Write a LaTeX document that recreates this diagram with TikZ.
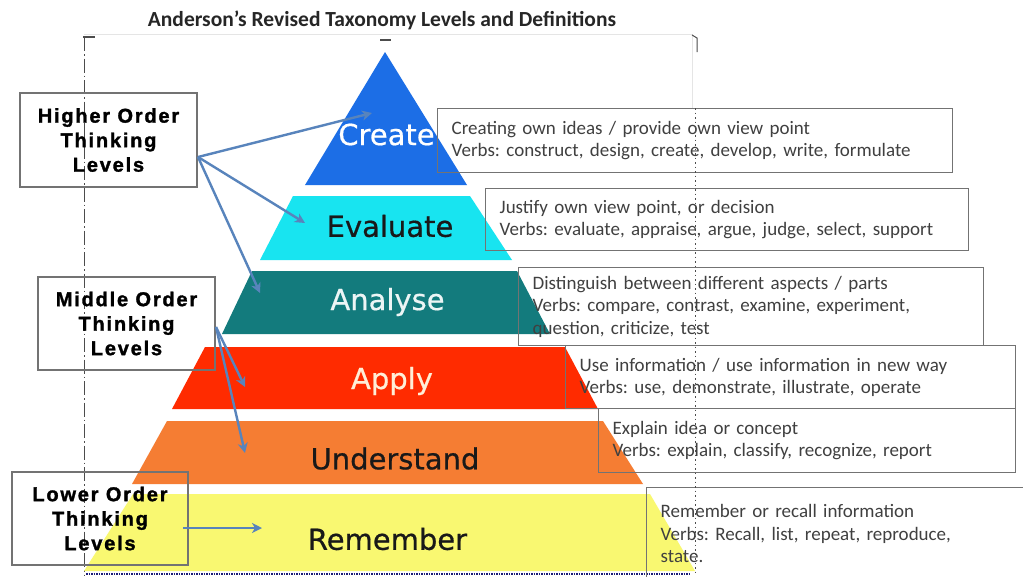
\documentclass[tikz,border=0pt]{standalone}
\usepackage{fontspec}
\setmainfont{Carlito}
\newfontfamily\pyrfont{DejaVu Sans}[FakeBold=0.6]
\newfontfamily\lvlfont{Liberation Sans}[LetterSpace=9, BoldFeatures={FakeBold=1.5}]
\usetikzlibrary{arrows.meta}
\definecolor{cCreate}{RGB}{28,110,230}
\definecolor{cEval}{RGB}{24,228,240}
\definecolor{cAnal}{RGB}{19,123,125}
\definecolor{cApply}{RGB}{255,43,0}
\definecolor{cUnder}{RGB}{245,125,51}
\definecolor{cRem}{RGB}{249,248,113}
\definecolor{arrowblue}{RGB}{88,132,188}
\definecolor{boxgray}{RGB}{115,115,115}
\definecolor{navy}{RGB}{30,30,120}
\frenchspacing
\begin{document}
\begin{tikzpicture}[x=1pt,y=-1pt,
  lvl/.style={draw=boxgray, line width=1.5pt, minimum width=177pt, minimum height=94pt,
    inner sep=0pt, align=center, text=black,
    font=\lvlfont\bfseries\fontsize{20}{24.5}\selectfont},
  desc/.style={draw=boxgray, line width=1.4pt, anchor=north west, inner xsep=14pt,
    inner ysep=0pt, align=left, text=black!75,
    font=\fontsize{19}{22.5}\selectfont},
  lab/.style={inner sep=0pt, font=\pyrfont\fontsize{29}{30}\selectfont},
  arr/.style={draw=arrowblue, line width=2.4pt,
    -{Stealth[length=10pt,width=10pt,inset=3pt]}},
  frame/.style={draw=black!70, line width=1pt},
]
\clip (0,0) rectangle (1023,576);
\fill[white] (0,0) rectangle (1023,576);

% title
\node[font=\bfseries\fontsize{21.5}{24}\selectfont, text=black!85] (title) at (382,20)
  {Anderson’s Revised Taxonomy Levels and Definitions};

% faint frame
\draw[black!10, line width=0.8pt] (84,34) -- (692,34) -- (692,108);
\draw[frame, dash pattern=on 14pt off 3pt on 1.5pt off 3pt] (84,37) -- (84,576);
\draw[frame, line width=1.3pt] (83,37) -- (95,37);
\draw[frame, line width=1.5pt] (380,40) -- (391,40);
\draw[frame] (692,35) -- (697,38) -- (697,52);

% pyramid layers
\fill[cCreate] (385,52) -- (467,185) -- (305,185) -- cycle;
\fill[cEval] (293,196) -- (470,196) -- (512,260) -- (260,260) -- cycle;
\fill[cAnal] (252,271) -- (517,271) -- (550,334) -- (222,334) -- cycle;
\fill[cApply] (205,347) -- (565,347) -- (598,409) -- (172,409) -- cycle;
\fill[cUnder] (167,421) -- (603,421) -- (643,484) -- (132,484) -- cycle;
\fill[cRem] (133,494) -- (650,494) -- (695,571) -- (84,571) -- cycle;
\draw[navy, line width=2.5pt, dash pattern=on 1.5pt off 1pt] (86,574) -- (690,574);

% layer labels
\node[lab, text=white] (create) at (386.5,134.5) {Create};
\node[lab, text=black!90] (evaluate) at (390,226) {Evaluate};
\node[lab, text=white!92!cAnal] (analyse) at (387.5,302) {Analyse};
\node[lab, text={rgb,255:red,255;green,238;blue,215}] (apply) at (392,381) {Apply};
\node[lab, text=black!90] (understand) at (395,458.5) {Understand};
\node[lab, text=black!90] (remember) at (387.5,539) {Remember};

% description boxes
\node[desc, text width=487pt, minimum height=64pt] (dcreate) at (437,108)
  {Creating own ideas / provide own view point\\Verbs: construct, design, create, develop, write, formulate};
\node[desc, text width=455pt, minimum height=62pt] (deval) at (485,188)
  {Justify own view point, or decision\\Verbs: evaluate, appraise, argue, judge, select, support};
\node[desc, text width=437pt, minimum height=78pt] (danal) at (518,267)
  {Distinguish between different aspects / parts\\Verbs: compare, contrast, examine, experiment,\\question, criticize, test};
\node[desc, text width=422pt, minimum height=63pt] (dapply) at (565,345)
  {Use information / use information in new way\\Verbs: use, demonstrate, illustrate, operate};
\node[desc, text width=389pt, minimum height=64pt] (dunder) at (598,408)
  {Explain idea or concept\\Verbs: explain, classify, recognize, report};
\node[desc, text width=392pt, minimum height=92pt] (drem) at (646,487)
  {Remember or recall information\\Verbs: Recall, list, repeat, reproduce,\\state.};

% dotted line through boxes
\draw[black!70, line width=1pt, dash pattern=on 1.5pt off 3pt] (695,108) -- (695,576);

% level boxes
\node[lvl] (hi) at (108.5,140) {Higher Order\\Thinking\\Levels};
\node[lvl, minimum height=93pt] (mid) at (126.5,323.5) {Middle Order\\Thinking\\Levels};
\node[lvl, minimum height=93pt, minimum width=176pt] (lo) at (100,518.5) {Lower Order\\Thinking\\Levels};

% arrows
\coordinate (hiout) at (198,157);
\coordinate (tcreate) at (372,113);
\coordinate (teval) at (305,223);
\coordinate (tanal) at (260,293);
\coordinate (midout) at (216,327);
\coordinate (tapply) at (245,387);
\coordinate (tunder) at (245,453);
\coordinate (loout) at (183,528);
\coordinate (trem) at (262,528);
\draw[arr] (hiout) -- (tcreate);
\draw[arr] (hiout) -- (teval);
\draw[arr] (hiout) -- (tanal);
\draw[arr] (midout) -- (tapply);
\draw[arr] (midout) -- (tunder);
\draw[arr] (loout) -- (trem);
\end{tikzpicture}
\end{document}
